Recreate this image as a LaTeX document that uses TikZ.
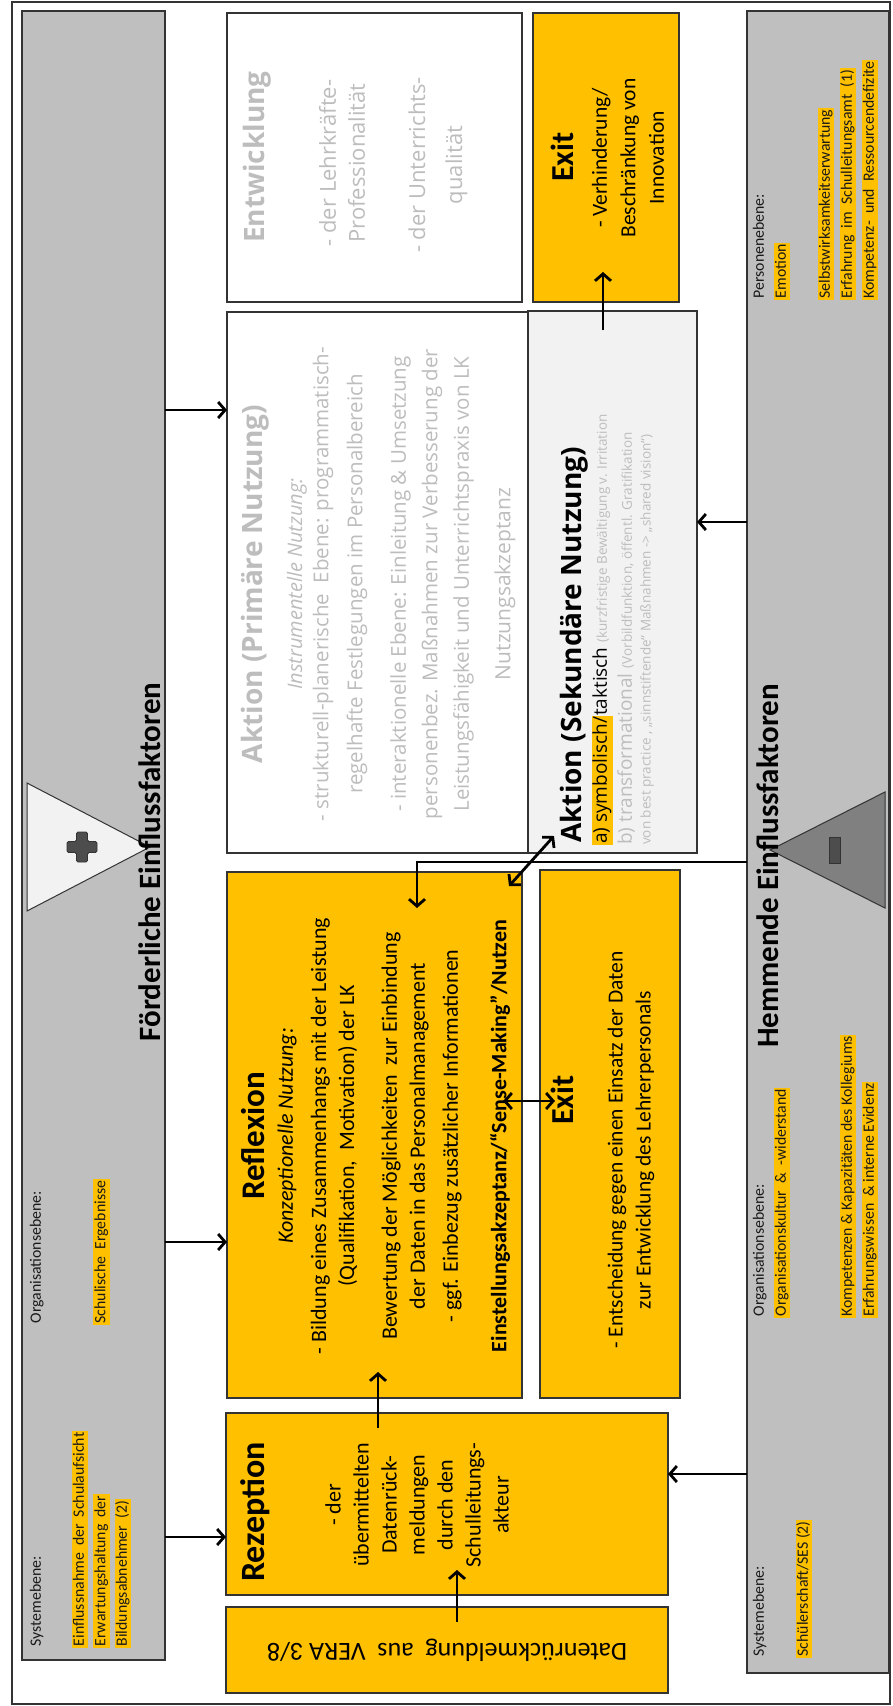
\documentclass[tikz,border=0pt]{standalone}
\usepackage{fontspec}
\setmainfont{Carlito}
\newfontfamily\osans{Open Sans}
\usetikzlibrary{arrows.meta}
\definecolor{hy}{HTML}{FFC000}
\definecolor{pg}{HTML}{BFBFBF}
\definecolor{bd}{HTML}{333333}
\definecolor{lg}{HTML}{F2F2F2}
\definecolor{ft}{HTML}{BDBDBD}
\definecolor{dk}{HTML}{4D4D4D}
\definecolor{tg}{HTML}{808080}
\newcommand{\fs}[2]{\fontsize{#1}{#2}\selectfont}
\newcommand{\mybox}[6]{\node[#6, minimum width={(#4)-(#2)}, minimum height={(#5)-(#3)}] (#1) at ({((#2)+(#4))/2},{((#3)+(#5))/2}) {};}
\setlength{\fboxsep}{1pt}
\tikzset{
  bx/.style={draw=bd, line width=1.3pt, rectangle, inner sep=0pt, outer sep=0pt},
  arr/.style={line width=2.8pt, -{Straight Barb[length=7pt,width=16pt]}},
  darr/.style={line width=2.8pt, {Straight Barb[length=7pt,width=16pt]}-{Straight Barb[length=7pt,width=16pt]}},
  pl/.style={rotate=90, anchor=west, inner xsep=1.5pt, inner ysep=0.5pt, font=\fs{15.8}{19}, text height=11.5pt, text depth=4pt, text=black!90},
  hl/.style={pl, fill=hy},
  rt/.style={rotate=90, align=center, inner sep=0pt},
  rtw/.style={rotate=90, anchor=west, inner sep=0pt},
}
\begin{document}
\begin{tikzpicture}[x=1pt,y=-1pt]
\useasboundingbox (0,0) rectangle (892,1706);
\fill[white] (0,0) rectangle (892,1706);
\draw[line width=1.2pt, black!80] (12,2) rectangle (890,1704);

% panels
\mybox{lp}{22}{11}{165}{1660}{bx, fill=pg}
\mybox{rp}{747}{11}{889}{1673}{bx, fill=pg}
% central boxes
\mybox{ent}{227}{13}{522}{302}{bx, fill=white}
\mybox{exT}{533}{13}{679}{302}{bx, fill=hy}
\mybox{apr}{227}{312}{528}{853}{bx, fill=white}
\mybox{ase}{528}{311}{697}{853}{bx, fill=lg}
\mybox{refl}{227}{872}{522}{1398}{bx, fill=hy}
\mybox{exL}{540}{870}{680}{1398}{bx, fill=hy}
\mybox{rez}{226}{1413}{668}{1595}{bx, fill=hy}
\mybox{dat}{226}{1607}{668}{1693}{bx, fill=hy}

% triangles
\draw[draw=bd, fill=lg, line width=1pt] (27,783) -- (150,847) -- (27,911) -- cycle;
\draw[draw=bd, fill=dk, line width=0.8pt, rounded corners=1.5pt]
  (76.5,832) -- (87.5,832) -- (87.5,841.5) -- (97,841.5) -- (97,852.5) -- (87.5,852.5)
  -- (87.5,862) -- (76.5,862) -- (76.5,852.5) -- (67,852.5) -- (67,841.5) -- (76.5,841.5) -- cycle;
\draw[draw=bd, fill=tg, line width=1pt] (885,792) -- (770,850) -- (885,908) -- cycle;
\draw[draw=bd, fill=dk, line width=0.8pt] (829,837) rectangle (840,863);

% panel titles
\node[rotate=90, font=\bfseries\fs{31}{36}] (ftit) at (150,862) {Förderliche Einflussfaktoren};
\node[rotate=90, font=\bfseries\fs{31}{36}] (htit) at (768,866) {Hemmende Einflussfaktoren};

% left panel texts
\node[pl] (l1) at (37,1648) {Systemebene:};
\node[hl] (l2) at (80,1648) {Einflussnahme\ \ der\ \ Schulaufsicht};
\node[hl] (l3) at (101.5,1648) {Erwartungshaltung\ \ der};
\node[hl] (l4) at (123,1648) {Bildungsabnehmer\ \ (2)};
\node[pl] (l5) at (37,1325) {Organisationsebene:};
\node[hl] (l6) at (101.5,1325) {Schulische\ \ Ergebnisse};

% right panel texts
\node[pl] (r1) at (760,1658) {Systemebene:};
\node[hl] (r2) at (804,1658) {Schülerschaft/SES (2)};
\node[pl] (r3) at (760,1318) {Organisationsebene:};
\node[hl] (r4) at (782,1318) {Organisationskultur\ \ \&\ \ -widerstand};
\node[hl] (r5) at (848,1318) {Kompetenzen \& Kapazitäten des Kollegiums};
\node[hl] (r6) at (870,1318) {Erfahrungswissen\ \ \& interne Evidenz};
\node[pl] (r7) at (760,300) {Personenebene:};
\node[hl] (r8) at (782,300) {Emotion};
\node[hl] (r9) at (826,300) {Selbstwirksamkeitserwartung};
\node[hl] (r10) at (848,300) {Erfahrung\ \ im\ \ Schulleitungsamt\ \ (1)};
\node[hl] (r11) at (870,300) {Kompetenz-\ \ und\ \ Ressourcendefizite};

% Entwicklung
\node[rt, text=ft, font=\osans\bfseries\fs{28}{32}] (entT) at (257,157) {Entwicklung};
\node[rt, text=ft, font=\osans\fs{22}{29}] (ent1) at (342,163) {- der Lehrkräfte-\\Professionalität};
\node[rt, text=ft, font=\osans\fs{22}{37}] (ent2) at (438,165) {- der Unterrichts-\\qualität};

% Exit top
\node[rt, font=\bfseries\fs{32}{36}] (exTt) at (562,157) {Exit};
\node[rt, font=\fs{21.5}{28.5}] (exTb) at (628,158) {- Verhinderung/\\Beschränkung von\\Innovation};

% Aktion primaer
\node[rt, text=ft, font=\osans\bfseries\fs{28}{32}] (aprT) at (255,584) {Aktion (Primäre Nutzung)};
\node[rt, text=ft, font=\osans\itshape\fs{20}{24}] (aprI) at (297,584) {Instrumentelle Nutzung:};
\node[rt, text=ft, font=\osans\fs{20.5}{34}] (apr1) at (340,584) {- strukturell-planerische\ \ Ebene: programmatisch-\\regelhafte Festlegungen im Personalbereich};
\node[rt, text=ft, font=\osans\fs{20.5}{31.5}] (apr2) at (432,584) {- interaktionelle Ebene: Einleitung \& Umsetzung\\personenbez. Maßnahmen zur Verbesserung der\\Leistungsfähigkeit und Unterrichtspraxis von LK};
\node[rt, text=ft, font=\osans\fs{21}{24}] (aprN) at (505,584) {Nutzungsakzeptanz};

% Aktion sekundaer
\node[rtw, font=\osans\bfseries\fs{28}{32}] (aseT) at (574,843) {Aktion (Sekundäre Nutzung)};
\node[rtw, font=\osans\fs{19}{22}] (ase1) at (602,845) {\colorbox{hy}{a) symbolisch/}taktisch \textcolor{ft}{\fs{13.5}{16}(kurzfristige Bewältigung v. Irritation}};
\node[rtw, text=ft, font=\osans\fs{19}{22}] (ase2) at (626,845) {b) transformational {\fs{13.5}{16}(Vorbildfunktion, öffentl. Gratifikation}};
\node[rtw, text=ft, font=\osans\fs{13.5}{16}] (ase3) at (647,845) {von best practice , „sinnstiftende“ Maßnahmen -> „shared vision“)};

% Reflexion
\node[rt, font=\bfseries\fs{33}{36}] (reflT) at (253,1136) {Reflexion};
\node[rt, font=\itshape\fs{22}{24}] (reflI) at (287,1136) {Konzeptionelle Nutzung:};
\node[rt, font=\fs{22}{28}] (refl1) at (334,1136) {- Bildung eines Zusammenhangs mit der Leistung\\(Qualifikation,\ \ Motivation) der LK};
\node[rt, font=\fs{22}{28}] (refl2) at (405,1136) {Bewertung der Möglichkeiten\ \ zur Einbindung\\der Daten in das Personalmanagement};
\node[rt, font=\fs{22}{28}] (refl3) at (452,1136) {- ggf. Einbezug zusätzlicher Informationen};
\node[rt, font=\bfseries\fs{22}{24}] (refl4) at (500,1136) {Einstellungsakzeptanz/“Sense-Making”/Nutzen};

% Exit lower
\node[rt, font=\bfseries\fs{32}{36}] (exLt) at (562,1100) {Exit};
\node[rt, font=\fs{21.5}{28}] (exLb) at (631,1150) {- Entscheidung gegen einen Einsatz der Daten\\zur Entwicklung des Lehrerpersonals};

% Rezeption
\node[rtw, font=\bfseries\fs{34}{38}] (rezT) at (255,1582) {Rezeption};
\node[rt, font=\fs{22}{28}] (rezb) at (417,1505) {- der\\übermittelten\\Datenrück-\\meldungen\\durch den\\Schulleitungs-\\akteur};

% Datenrueckmeldung
\node[rotate=180, font=\fs{26}{30}] (datT) at (447,1650) {Datenrückmeldung\ \ aus\ \ VERA 3/8};

% connectors
\draw[arr] (lp.east |- 0,410) -- (apr.west |- 0,410);
\draw[arr] (lp.east |- 0,1242) -- (refl.west |- 0,1242);
\draw[arr] (lp.east |- 0,1537) -- (rez.west |- 0,1537);
\draw[arr] (rp.west |- 0,522) -- (ase.east |- 0,522);
\draw[arr] (rp.west |- 0,1474) -- (rez.east |- 0,1474);
\coordinate (hb) at (417,862);
\coordinate (hin) at (417,908);
\draw[arr] (rp.west |- hb) -- (hb) -- (hin);
\coordinate (rz1) at (378,1428);
\coordinate (rf1) at (378,1372);
\draw[arr] (rz1) -- (rf1);
\coordinate (dt1) at (457,1622);
\coordinate (rz2) at (457,1570);
\draw[arr] (dt1) -- (rz2);
\coordinate (as1) at (603,330);
\coordinate (ex1) at (603,272);
\draw[arr] (as1) -- (ex1);
\coordinate (rf2) at (503,1101);
\coordinate (ex2) at (555,1101);
\draw[darr] (rf2) -- (ex2);
\coordinate (rf3) at (509,886);
\coordinate (as2) at (554,836);
\draw[darr] (rf3) -- (as2);
\end{tikzpicture}
\end{document}
